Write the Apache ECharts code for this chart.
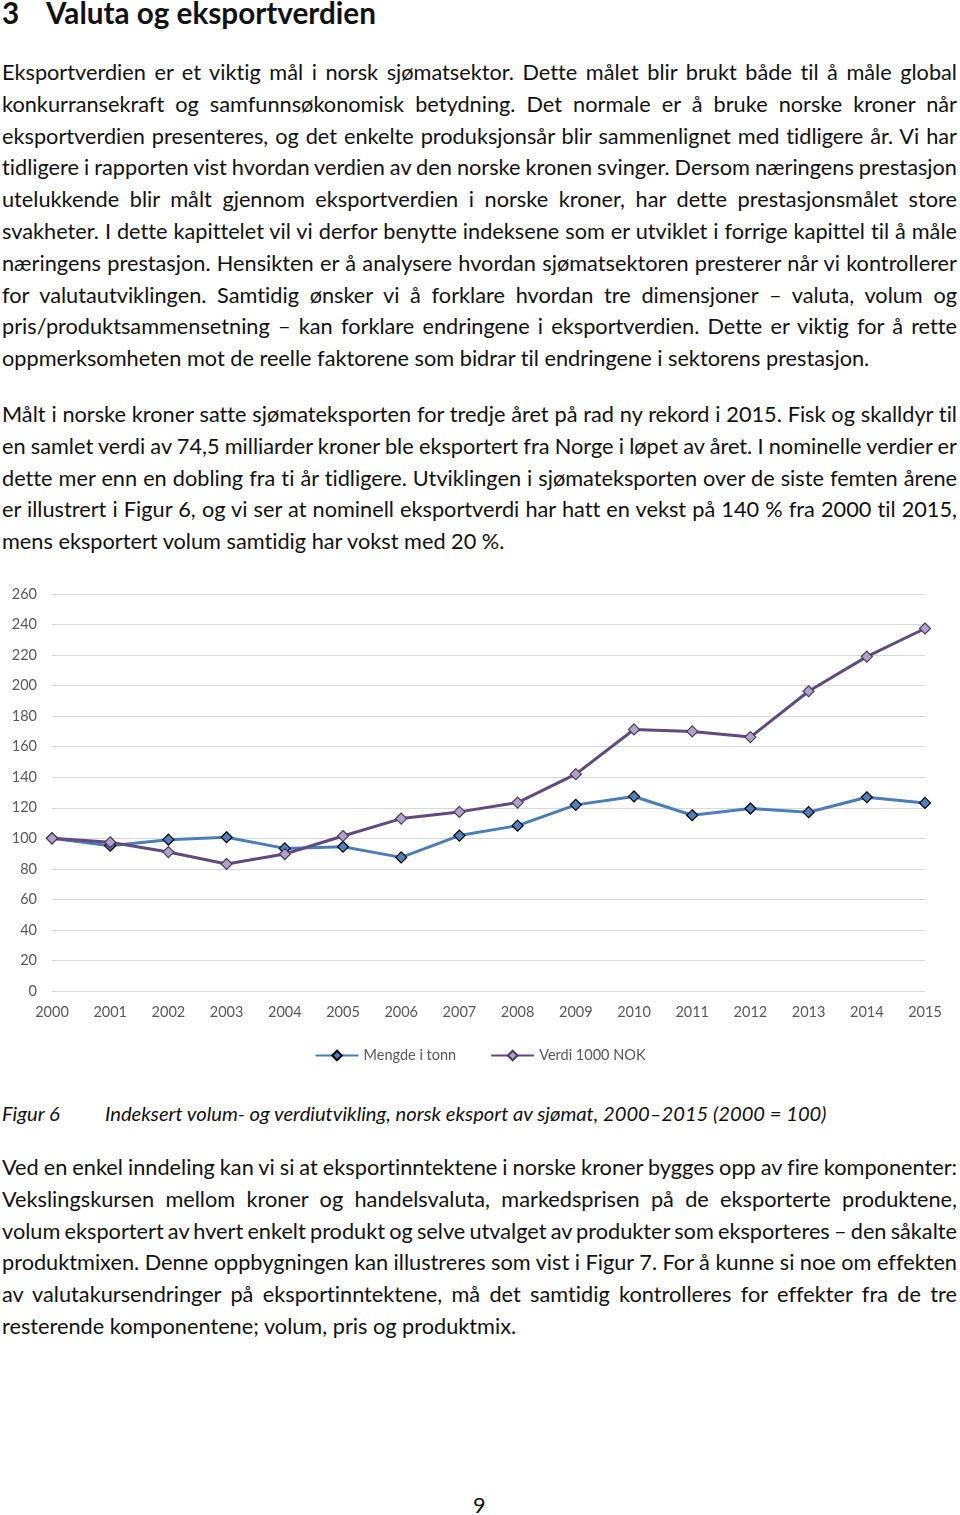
<!DOCTYPE html>
<html><head><meta charset="utf-8">
<script src="https://cdn.jsdelivr.net/npm/echarts@6/dist/echarts.min.js"></script>
<style>
html,body{margin:0;padding:0;background:#fff;}
body{width:960px;height:1515px;position:relative;overflow:hidden;font-family:Lato,sans-serif;color:#111;font-variant-ligatures:none;}
.blk{position:absolute;left:2px;width:955px;}
.ln{white-space:nowrap;height:31.8px;line-height:31.8px;}
#h{position:absolute;left:2px;top:-4px;font-weight:bold;white-space:nowrap;line-height:34px;}
#cap{position:absolute;top:1097px;left:2px;font-style:italic;line-height:32px;white-space:nowrap;}
#pg{position:absolute;left:473px;top:1489px;line-height:32px;}
#chart{position:absolute;left:0;top:570px;width:960px;height:510px;}
</style></head>
<body>
<div id="h"><span>3</span><span id="htxt" style="position:absolute;left:44px;">Valuta og eksportverdien</span></div>
<div class="blk" id="p1" style="top:57px;"></div>
<div class="blk" id="p2" style="top:399px;"></div>
<div id="chart"></div>
<div id="cap"><span>Figur 6</span><span id="captxt" style="position:absolute;left:103px;">Indeksert volum- og verdiutvikling, norsk eksport av sjømat, 2000–2015 (2000 = 100)</span></div>
<div class="blk" id="p3" style="top:1152px;"></div>
<div id="pg">9</div>
<script>
// ---- text ----
const para1 = [
 "Eksportverdien er et viktig mål i norsk sjømatsektor. Dette målet blir brukt både til å måle global",
 "konkurransekraft og samfunnsøkonomisk betydning. Det normale er å bruke norske kroner når",
 "eksportverdien presenteres, og det enkelte produksjonsår blir sammenlignet med tidligere år. Vi har",
 "tidligere i rapporten vist hvordan verdien av den norske kronen svinger. Dersom næringens prestasjon",
 "utelukkende blir målt gjennom eksportverdien i norske kroner, har dette prestasjonsmålet store",
 "svakheter. I dette kapittelet vil vi derfor benytte indeksene som er utviklet i forrige kapittel til å måle",
 "næringens prestasjon. Hensikten er å analysere hvordan sjømatsektoren presterer når vi kontrollerer",
 "for valutautviklingen. Samtidig ønsker vi å forklare hvordan tre dimensjoner – valuta, volum og",
 "pris/produktsammensetning – kan forklare endringene i eksportverdien. Dette er viktig for å rette",
 "oppmerksomheten mot de reelle faktorene som bidrar til endringene i sektorens prestasjon."
];
const para2 = [
 "Målt i norske kroner satte sjømateksporten for tredje året på rad ny rekord i 2015. Fisk og skalldyr til",
 "en samlet verdi av 74,5 milliarder kroner ble eksportert fra Norge i løpet av året. I nominelle verdier er",
 "dette mer enn en dobling fra ti år tidligere. Utviklingen i sjømateksporten over de siste femten årene",
 "er illustrert i Figur 6, og vi ser at nominell eksportverdi har hatt en vekst på 140 % fra 2000 til 2015,",
 "mens eksportert volum samtidig har vokst med 20 %."
];
const para3 = [
 "Ved en enkel inndeling kan vi si at eksportinntektene i norske kroner bygges opp av fire komponenter:",
 "Vekslingskursen mellom kroner og handelsvaluta, markedsprisen på de eksporterte produktene,",
 "volum eksportert av hvert enkelt produkt og selve utvalget av produkter som eksporteres – den såkalte",
 "produktmixen. Denne oppbygningen kan illustreres som vist i Figur 7. For å kunne si noe om effekten",
 "av valutakursendringer på eksportinntektene, må det samtidig kontrolleres for effekter fra de tre",
 "resterende komponentene; volum, pris og produktmix."
];

// ---- chart data ----
const years = ['2000','2001','2002','2003','2004','2005','2006','2007','2008','2009','2010','2011','2012','2013','2014','2015'];
const mengde = [100,95.2,99.1,100.7,93.4,94.5,87.5,101.8,108.3,121.9,127.4,115.1,119.5,117.1,126.9,123.2];
const verdi = [100,97.4,91.0,83.2,89.7,101.5,112.9,117.3,123.4,142.0,171.3,170.0,166.3,196.3,219.0,237.4];
const seriesNames = ['Mengde i tonn','Verdi 1000 NOK'];

const FAM = 'Lato';
function spanWidth(t, css){
  const s = document.createElement('span');
  s.style.cssText = 'position:absolute;white-space:nowrap;visibility:hidden;'+css;
  s.textContent = t; document.body.appendChild(s);
  const w = s.getBoundingClientRect().width; s.remove(); return w;
}
function fit(t, css, target){ return 100*target/spanWidth(t, css+';font-size:100px'); }

const bodyFs = fit(para1[9], '', 868);
document.body.style.fontSize = bodyFs+'px';
const LINEW = 955;
function build(id, lines){
  const el = document.getElementById(id);
  lines.forEach((t,i)=>{
    const d = document.createElement('div');
    d.className='ln';
    const s = document.createElement('span'); s.textContent = t; d.appendChild(s);
    el.appendChild(d);
    if(i < lines.length-1){
      const w = s.getBoundingClientRect().width;
      const n = (t.match(/ /g)||[]).length;
      s.style.wordSpacing = ((LINEW - w)/n)+'px';
    }
  });
}
build('p1', para1); build('p2', para2); build('p3', para3);

const hFs = fit('Valuta og eksportverdien','font-weight:bold',330);
document.getElementById('h').style.fontSize = hFs+'px';
const cFs = fit('Indeksert volum- og verdiutvikling, norsk eksport av sjømat, 2000–2015 (2000 = 100)','font-style:italic',722);
document.getElementById('cap').style.fontSize = cFs+'px';

const chart = echarts.init(document.getElementById('chart'), null, {renderer:'canvas'});
chart.setOption({
  animation:false,
  textStyle:{fontFamily:FAM},
  grid:{left:52,right:35,top:24,height:397},
  legend:{top:473,left:'center',itemWidth:43,itemHeight:12,itemGap:34,
    textStyle:{color:'#595959',fontSize:14.5,fontFamily:FAM},data:seriesNames},
  xAxis:{type:'category',data:years,boundaryGap:false,
    axisLine:{show:false},axisTick:{show:false},
    axisLabel:{color:'#595959',fontSize:14.5,margin:14,fontFamily:FAM}},
  yAxis:{type:'value',min:0,max:260,interval:20,
    axisLine:{show:false},axisTick:{show:false},
    splitLine:{lineStyle:{color:'#d9d9d9',width:1}},
    axisLabel:{color:'#595959',fontSize:14.5,margin:15,fontFamily:FAM}},
  series:[
    {name:seriesNames[0],type:'line',data:mengde,symbol:'diamond',symbolSize:11,
     lineStyle:{color:'#4a7ebb',width:3},itemStyle:{color:'#4f81bd',borderColor:'#000',borderWidth:1.2}},
    {name:seriesNames[1],type:'line',data:verdi,symbol:'diamond',symbolSize:11,
     lineStyle:{color:'#5f4b80',width:3},itemStyle:{color:'#b3a2c7',borderColor:'#4a3a63',borderWidth:1.2}}
  ]
});
</script>
</body></html>
